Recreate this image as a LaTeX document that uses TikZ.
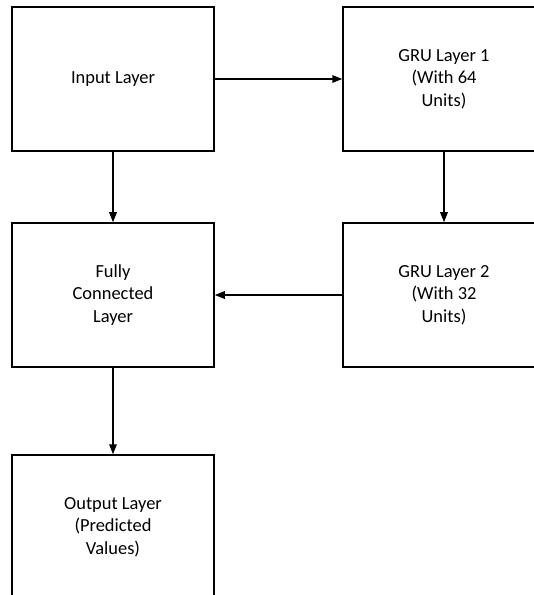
\documentclass[tikz,border=0pt]{standalone}
\usepackage{fontspec}
\setmainfont{Carlito}
\usetikzlibrary{arrows.meta}

\begin{document}
\begin{tikzpicture}[x=1bp,y=-1bp,
  layer/.style={draw,line width=1.5bp,minimum width=202bp,minimum height=144bp,
    align=center,font=\fontsize{18.5}{22.5}\selectfont},
  flow/.style={line width=1.5bp,-{Triangle[length=10bp,width=7.5bp]}}]
\useasboundingbox (0,0) rectangle (534,595);
\clip (0,0) rectangle (534,595);
\fill[white] (0,0) rectangle (534,595);
\node[layer] (input) at (113,79) {Input Layer};
\node[layer] (gruone) at (444,79) {GRU Layer 1\\(With 64\\Units)};
\node[layer] (fc) at (113,295) {Fully\\Connected\\Layer};
\node[layer] (grutwo) at (444,295) {GRU Layer 2\\(With 32\\Units)};
\node[layer] (output) at (113,527) {Output Layer\\(Predicted\\Values)};
\draw[flow] (input) -- (gruone);
\draw[flow] (input) -- (fc);
\draw[flow] (gruone) -- (grutwo);
\draw[flow] (grutwo) -- (fc);
\draw[flow] (fc) -- (output);
\end{tikzpicture}
\end{document}
